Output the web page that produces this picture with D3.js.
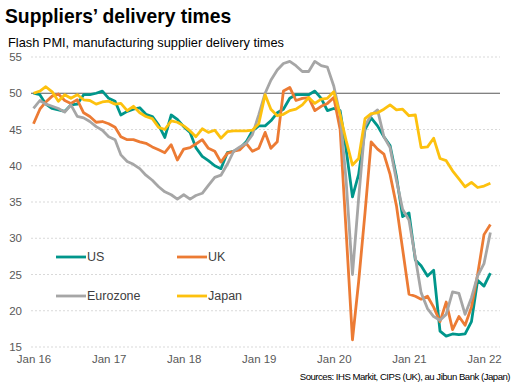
<!DOCTYPE html>
<html>
<head>
<meta charset="utf-8">
<script src="https://cdn.jsdelivr.net/npm/d3@7"></script>
<style>
  body { margin: 0; background: #fff; }
  svg { font-family: Arial, "Liberation Sans", sans-serif; }
</style>
</head>
<body>
<div id="chart"></div>
<script>
// monthly flash PMI, supplier delivery times index, Jan 2016 - Feb 2022
var months = d3.timeMonth.range(new Date(2016, 0, 1), new Date(2022, 2, 1));

var us = [50.0, 49.8, 48.5, 47.9, 47.7, 47.5, 48.4, 48.5, 49.8, 49.8, 50.0, 50.3,
          49.3, 48.9, 47.0, 47.5, 47.8, 48.0, 47.1, 46.8, 45.6, 43.9, 47.0, 46.4,
          45.4, 44.6, 42.5, 41.3, 40.7, 40.0, 39.6, 41.8, 42.0, 42.4, 43.3, 44.8,
          45.5, 45.5, 46.2, 47.3, 47.8, 49.3, 49.8, 49.8, 49.8, 50.3, 49.3, 47.6,
          47.9, 47.6, 42.3, 35.7, 38.8, 45.0, 46.6, 45.5, 44.0, 42.8, 38.5, 33.0,
          33.5, 27.0, 26.2, 24.8, 25.6, 17.2, 16.5, 16.8, 16.7, 16.8, 18.5, 24.2,
          23.4, 25.2];
var uk = [45.8, 47.8, 48.8, 49.6, 49.9, 49.0, 48.6, 49.1, 47.3, 46.8, 46.0, 46.1,
          45.8, 45.3, 44.0, 43.6, 43.6, 43.3, 43.1, 42.6, 42.2, 41.8, 42.9, 40.8,
          42.3, 42.5, 43.0, 43.6, 42.4, 42.0, 40.5, 41.7, 42.0, 42.2, 43.1, 42.0,
          42.4, 44.6, 42.4, 43.3, 50.3, 50.8, 49.0, 49.3, 49.4, 47.6, 48.2, 48.6,
          49.4, 45.0, 31.0, 16.0, 24.0, 33.5, 43.3, 42.3, 41.6, 38.8, 34.5, 28.5,
          22.3, 22.0, 21.6, 22.0, 20.5, 18.5, 21.2, 17.4, 19.2, 18.0, 20.5, 25.0,
          30.5, 31.9];
var eurozone = [47.9, 49.0, 48.5, 48.2, 47.9, 47.4, 48.4, 46.8, 46.6, 46.1, 45.4, 44.9,
          44.0, 43.6, 41.5, 40.6, 40.2, 39.6, 38.7, 38.0, 37.1, 36.4, 36.0, 35.4,
          36.0, 35.4, 35.9, 36.2, 37.3, 38.4, 38.7, 40.2, 42.0, 42.6, 43.1, 44.3,
          47.0, 50.0, 51.8, 53.2, 54.1, 54.4, 53.8, 53.0, 53.0, 54.4, 53.8, 53.6,
          51.0, 47.0, 38.0, 25.0, 35.5, 45.5, 47.0, 47.7, 44.0, 42.5, 38.0, 34.0,
          32.5, 27.3, 22.5, 20.3, 19.2, 18.7, 19.5, 22.6, 22.4, 19.5, 21.8, 24.8,
          26.5, 30.8];
var japan = [50.0, 50.3, 50.9, 50.2, 48.9, 49.8, 49.3, 49.8, 49.1, 49.0, 48.5, 48.8,
          48.9, 48.5, 48.6, 47.6, 48.2, 47.3, 46.8, 46.5, 45.3, 45.0, 46.2, 46.0,
          45.5, 44.8, 44.0, 45.1, 44.6, 44.9, 43.8, 44.7, 44.8, 44.8, 44.8, 44.9,
          45.8, 49.8, 47.8, 46.9, 47.1, 47.6, 47.8, 48.4, 49.4, 48.6, 49.2, 49.3,
          50.2, 47.0, 43.5, 40.1, 41.0, 46.5, 47.2, 47.3, 47.8, 48.4, 47.7, 47.8,
          46.9, 47.0, 42.5, 42.6, 43.8, 41.0, 40.7, 39.3, 38.2, 37.1, 37.7, 37.0,
          37.2, 37.6];

var seriesNames = ["US", "UK", "Eurozone", "Japan"];
var seriesColors = ["#00968b", "#ec7b34", "#a6a6a6", "#fdc10e"];
var yTicks = [15, 20, 25, 30, 35, 40, 45, 50, 55];

var width = 518, height = 390;

var svg = d3.select("#chart")
  .append("svg")
  .attr("width", width)
  .attr("height", height);

// titles
svg.append("text")
  .attr("x", 5).attr("y", 23)
  .style("font-size", "19.3px").style("font-weight", "bold").style("fill", "#000")
  .text("Suppliers’ delivery times");

svg.append("text")
  .attr("x", 8).attr("y", 47)
  .style("font-size", "12.8px").style("fill", "#000")
  .text("Flash PMI, manufacturing supplier delivery times");

// scales
var x = d3.scaleTime()
  .domain([new Date(2016, 0, 1), new Date(2022, 0, 1)])
  .range([33.5, 484]);
var y = d3.scaleLinear()
  .domain([15, 55])
  .range([347, 57]);

// gridlines
svg.append("g")
  .selectAll("line")
  .data(yTicks.filter(function(d) { return d != 50; }))
  .enter()
  .append("line")
  .attr("x1", 31).attr("x2", 500)
  .attr("y1", function(d) { return y(d); })
  .attr("y2", function(d) { return y(d); })
  .attr("stroke", "#d9d9d9")
  .attr("stroke-width", 1)
  .attr("stroke-dasharray", "2,2");

// 50 = no change line
svg.append("line")
  .attr("x1", 31).attr("x2", 500)
  .attr("y1", y(50)).attr("y2", y(50))
  .attr("stroke", "#595959")
  .attr("stroke-width", 1.2);

// y axis
var yAxis = svg.append("g")
  .attr("transform", "translate(22,0)")
  .call(d3.axisLeft(y).tickValues(yTicks).tickSize(0).tickPadding(0));
yAxis.select(".domain").remove();
yAxis.selectAll("text")
  .style("font-size", "11.5px").style("fill", "#595959").style("font-family", "Arial, 'Liberation Sans', sans-serif");

// x axis
var xAxis = svg.append("g")
  .attr("transform", "translate(0,347)")
  .call(d3.axisBottom(x).ticks(d3.timeYear.every(1)).tickFormat(d3.timeFormat("Jan %y")).tickSize(0).tickPadding(8));
xAxis.select(".domain").remove();
xAxis.selectAll("text")
  .style("font-size", "11.5px").style("fill", "#595959").style("font-family", "Arial, 'Liberation Sans', sans-serif");

// lines
var allSeries = [us, uk, eurozone, japan];
var line = d3.line()
  .x(function(d, i) { return x(months[i]); })
  .y(function(d) { return y(d); });

svg.append("g")
  .selectAll("path")
  .data(allSeries)
  .enter()
  .append("path")
  .attr("d", function(d) { return line(d); })
  .attr("fill", "none")
  .attr("stroke", function(d, i) { return seriesColors[i]; })
  .attr("stroke-width", 2.8)
  .attr("stroke-linejoin", "round");

// legend
var legendPos = [[56, 257], [177, 257], [56, 296], [177, 296]];
var legend = svg.append("g")
  .selectAll("g")
  .data(seriesNames)
  .enter()
  .append("g")
  .attr("transform", function(d, i) { return "translate(" + legendPos[i][0] + "," + legendPos[i][1] + ")"; });
legend.append("line")
  .attr("x1", 0).attr("x2", 30)
  .attr("stroke", function(d, i) { return seriesColors[i]; })
  .attr("stroke-width", 2.8);
legend.append("text")
  .attr("x", 31).attr("y", 0).attr("dy", "0.35em")
  .style("font-size", "12.5px").style("fill", "#404040")
  .text(function(d) { return d; });

// source
svg.append("text")
  .attr("x", 510).attr("y", 380)
  .attr("text-anchor", "end")
  .style("font-size", "9.6px").style("fill", "#000").style("letter-spacing", "-0.5px")
  .text("Sources: IHS Markit, CIPS (UK), au Jibun Bank (Japan)");
</script>
</body>
</html>
